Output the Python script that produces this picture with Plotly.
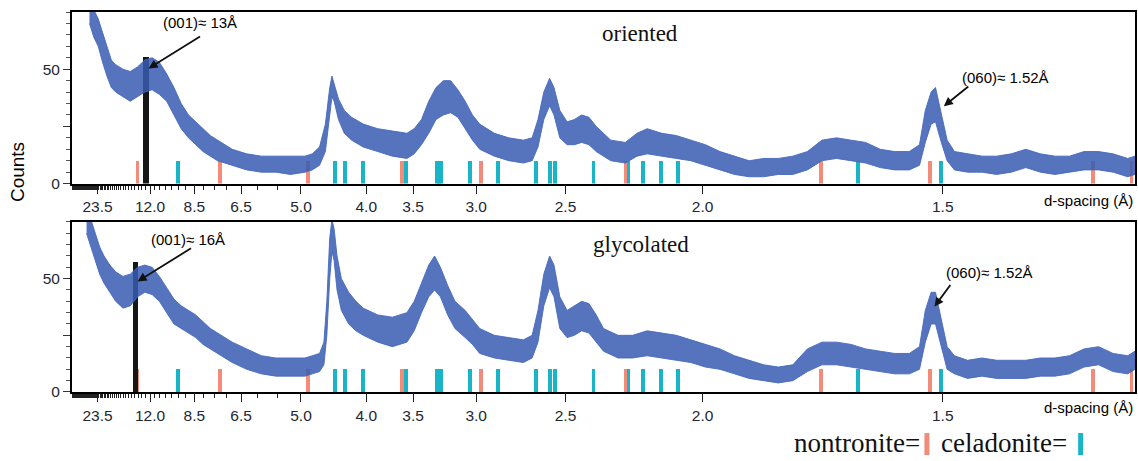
import math
import numpy as np
import plotly.graph_objects as go

LAMBDA = 1.5406  # Cu K-alpha, Å

# ---------------- data (2-theta in degrees, counts) ----------------
# oriented sample: envelope of the noisy trace (low / high counts)
or_2theta = [3.2, 3.5, 3.8, 4.1, 4.4, 4.7, 5.0, 5.5, 6.0, 6.5, 7.0, 7.5, 8.0, 8.5, 9.0, 9.5,
             10.0, 10.5, 11.0, 11.5, 12.0, 12.5, 13.0, 14.0, 15.0, 16.0, 17.0, 18.0, 18.5,
             19.0, 19.4, 19.7, 19.85, 20.0, 20.3, 20.7, 21.2, 22.0, 23.0, 24.0, 25.0, 25.5,
             26.0, 26.5, 27.0, 27.5, 28.0, 28.5, 29.0, 29.5, 30.0, 31.0, 32.0, 33.0, 33.6,
             34.0, 34.4, 34.8, 35.1, 35.5, 36.0, 36.5, 37.0, 37.5, 38.0, 39.0, 40.0, 40.8,
             41.5, 42.5, 43.5, 44.5, 45.5, 46.5, 47.5, 48.5, 49.5, 50.5, 51.5, 52.5, 53.5,
             54.5, 55.5, 56.5, 57.5, 58.5, 59.5, 60.2, 60.6, 61.0, 61.3, 61.7, 62.1, 62.6,
             63.5, 64.5, 65.5, 66.5, 67.5, 68.5, 69.5, 70.5, 71.5, 72.5, 73.5, 74.5, 75.0]
or_low = [70, 64, 60, 53, 47, 42, 40, 38, 36, 38, 40, 41, 39, 36, 30, 24,
          20, 17, 14, 12, 10, 9, 8, 6, 5, 5, 4, 5, 6,
          8, 14, 30, 38, 36, 28, 22, 19, 16, 14, 12, 11, 13,
          17, 22, 28, 30, 31, 29, 24, 19, 15, 12, 10, 9, 10,
          16, 28, 34, 30, 20, 17, 17, 18, 17, 14, 10, 9, 12,
          13, 12, 11, 10, 8, 6, 4, 3, 3, 4, 4, 6, 10,
          11, 10, 9, 7, 6, 6, 8, 18, 26, 27, 18, 10, 6,
          5, 5, 4, 5, 7, 5, 4, 5, 6, 6, 5, 3, 4]
or_high = [80, 76, 72, 66, 60, 54, 52, 50, 49, 51, 54, 55, 53, 48, 42, 35,
           30, 27, 24, 21, 19, 17, 15, 13, 12, 12, 12, 12, 13,
           16, 26, 42, 47, 44, 37, 32, 29, 26, 24, 23, 22, 24,
           28, 36, 42, 45, 45, 41, 36, 30, 26, 22, 20, 19, 20,
           28, 40, 46, 42, 32, 27, 28, 30, 29, 25, 19, 18, 22,
           24, 22, 21, 19, 17, 14, 12, 10, 11, 11, 12, 14, 19,
           20, 19, 18, 15, 14, 14, 17, 32, 40, 42, 30, 19, 14,
           13, 12, 12, 13, 15, 13, 12, 12, 14, 14, 13, 11, 12]

# glycolated sample
gl_2theta = [3.0, 3.3, 3.6, 3.9, 4.2, 4.6, 5.0, 5.5, 6.0, 6.5, 7.0, 7.5, 8.0, 8.5, 9.0, 9.5,
             10.0, 10.5, 11.0, 11.5, 12.0, 12.5, 13.0, 14.0, 15.0, 16.0, 17.0, 18.0, 18.5,
             19.0, 19.3, 19.5, 19.7, 19.85, 20.0, 20.2, 20.5, 21.0, 21.5, 22.0, 23.0, 24.0,
             25.0, 25.5, 26.0, 26.5, 26.9, 27.3, 27.8, 28.3, 29.0, 29.5, 30.0, 31.0, 32.0,
             33.0, 33.6, 34.0, 34.4, 34.8, 35.1, 35.5, 36.0, 36.5, 37.0, 37.5, 38.0, 38.5,
             39.5, 40.5, 41.5, 42.5, 43.5, 44.5, 45.5, 46.5, 47.5, 48.5, 49.5, 50.5, 51.5,
             52.5, 53.5, 54.5, 55.5, 56.5, 57.5, 58.5, 59.5, 60.2, 60.6, 61.0, 61.3, 61.7,
             62.1, 62.6, 63.5, 64.5, 65.5, 66.5, 67.5, 68.5, 69.5, 70.5, 71.5, 72.5, 73.5,
             74.5, 75.0]
gl_low = [70, 64, 58, 52, 48, 44, 40, 37, 38, 42, 44, 43, 40, 35, 30, 28,
          26, 24, 21, 19, 17, 15, 13, 10, 8, 7, 7, 7, 8,
          9, 12, 25, 50, 62, 58, 45, 36, 30, 27, 25, 22, 20,
          22, 27, 35, 42, 45, 42, 34, 28, 24, 21, 17, 15, 14,
          13, 15, 22, 38, 46, 42, 28, 24, 25, 27, 26, 22, 18,
          15, 15, 16, 15, 14, 13, 11, 10, 8, 6, 5, 4, 5,
          9, 12, 12, 11, 10, 9, 8, 8, 10, 22, 30, 30, 20,
          10, 8, 6, 7, 6, 6, 6, 7, 7, 8, 11, 12, 9,
          8, 10]
gl_high = [80, 76, 70, 64, 60, 56, 53, 51, 52, 55, 56, 55, 51, 46, 41, 38,
           36, 34, 31, 28, 26, 24, 22, 19, 16, 15, 15, 15, 16,
           17, 22, 40, 68, 76, 72, 60, 50, 44, 40, 37, 34, 33,
           35, 40, 48, 56, 60, 55, 47, 40, 36, 32, 28, 25, 24,
           23, 25, 36, 52, 60, 56, 42, 36, 38, 40, 39, 34, 28,
           25, 25, 27, 26, 25, 23, 21, 19, 16, 14, 12, 11, 12,
           19, 22, 22, 21, 19, 18, 17, 17, 20, 36, 44, 44, 32,
           20, 16, 14, 15, 14, 14, 14, 15, 15, 16, 19, 20, 17,
           16, 18]

# reference stick patterns (2-theta positions, degrees) and stick height (counts)
nontronite_2theta = [6.50, 12.15, 18.23, 24.66, 30.08, 40.01, 53.46, 60.91, 72.14, 74.76]
celadonite_2theta = [9.27, 20.07, 20.77, 21.97, 24.94, 27.04, 27.18, 27.34, 29.33, 31.25,
                     33.88, 34.81, 35.18, 37.81, 40.21, 41.22, 42.43, 43.64, 55.97, 61.69]
stick_height = 10

# (001) marker bars
or_001_2theta, or_001_counts = 7.08, 55.4
gl_001_2theta, gl_001_counts = 6.34, 57.2

# axis tick labels (d-spacing, Å)
d_labels = [23.5, 12.0, 8.5, 6.5, 5.0, 4.0, 3.5, 3.0, 2.5, 2.0, 1.5]
d_minor = [round(v, 1) for v in np.arange(5.0, 44.01, 0.5)]


def d_to_2theta(d):
    return 2 * math.degrees(math.asin(LAMBDA / (2 * d)))


tick_pos = [d_to_2theta(d) for d in d_labels]
tick_txt = ["%.1f" % d for d in d_labels]
minor_pos = [d_to_2theta(d) for d in d_minor if d not in d_labels]

BLUE_FILL = "rgba(55, 92, 178, 0.85)"
BLUE_LINE = "rgba(70, 105, 190, 0.9)"
SALMON = "#F28B78"
CYAN = "#17B5C7"
TICKFONT = dict(family="Liberation Sans, Arial", size=15.5, color="#1e2733")

fig = go.Figure()

panels = [
    ("x", "y", or_2theta, or_low, or_high, or_001_2theta, or_001_counts),
    ("x2", "y2", gl_2theta, gl_low, gl_high, gl_001_2theta, gl_001_counts),
]
for xa, ya, tt, lo, hi, bx, by in panels:
    fig.add_trace(go.Scatter(
        x=list(tt) + list(tt[::-1]), y=list(hi) + list(lo[::-1]),
        fill="toself", fillcolor=BLUE_FILL, mode="lines",
        line=dict(color=BLUE_LINE, width=1), xaxis=xa, yaxis=ya,
        showlegend=False, hoverinfo="skip"))
    fig.add_trace(go.Bar(
        x=nontronite_2theta, y=[stick_height] * len(nontronite_2theta), width=0.26,
        marker=dict(color=SALMON, line=dict(width=0)), xaxis=xa, yaxis=ya,
        showlegend=False))
    fig.add_trace(go.Bar(
        x=celadonite_2theta, y=[stick_height] * len(celadonite_2theta), width=0.26,
        marker=dict(color=CYAN, line=dict(width=0)), xaxis=xa, yaxis=ya,
        showlegend=False))
    fig.add_trace(go.Bar(
        x=[bx], y=[by], width=0.36,
        marker=dict(color="#161616", line=dict(width=0)), xaxis=xa, yaxis=ya,
        showlegend=False))

xaxis_common = dict(
    range=[2, 75], tickmode="array", tickvals=tick_pos, ticktext=tick_txt,
    ticks="outside", ticklen=8, tickwidth=1.2, tickcolor="#222",
    showline=True, linecolor="black", linewidth=2, mirror=True,
    showgrid=False, zeroline=False, tickfont=TICKFONT,
    minor=dict(tickvals=minor_pos, ticks="outside", ticklen=4, tickwidth=1, tickcolor="#222"),
)
yaxis_common = dict(
    range=[0, 75], tickmode="array", tickvals=[0, 25, 50], ticktext=["0", "", "50"],
    ticks="outside", ticklen=7, tickwidth=1.2, tickcolor="#333",
    showline=True, linecolor="black", linewidth=2, mirror=True,
    showgrid=False, zeroline=False, tickfont=TICKFONT,
    minor=dict(dtick=5, tick0=0, ticks="outside", ticklen=4, tickwidth=1, tickcolor="#555"),
)

fig.update_layout(
    width=1138, height=461,
    margin=dict(l=72, r=1, t=12, b=69),
    paper_bgcolor="white", plot_bgcolor="white",
    barmode="overlay", bargap=0,
    xaxis=dict(domain=[0, 1], anchor="y", **xaxis_common),
    yaxis=dict(domain=[0.5484, 1], anchor="x", **yaxis_common),
    xaxis2=dict(domain=[0, 1], anchor="y2", **xaxis_common),
    yaxis2=dict(domain=[0, 0.4474], anchor="x2", **yaxis_common),
)

ann_font = dict(family="Liberation Sans, Arial", size=15, color="black")
serif = dict(family="Liberation Serif, Times New Roman", size=23, color="#111")

anns = [
    # texts
    dict(x=10.80, y=70.6, xref="x", yref="y", text="(001)≈ 13Å", showarrow=False, font=ann_font,
         xanchor="center"),
    dict(x=66.1, y=46.5, xref="x", yref="y", text="(060)≈ 1.52Å", showarrow=False, font=ann_font,
         xanchor="center"),
    dict(x=9.98, y=67.3, xref="x2", yref="y2", text="(001)≈ 16Å", showarrow=False, font=ann_font,
         xanchor="center"),
    dict(x=65.0, y=52.7, xref="x2", yref="y2", text="(060)≈ 1.52Å", showarrow=False, font=ann_font,
         xanchor="center"),
    dict(x=40.99, y=65.7, xref="x", yref="y", text="oriented", showarrow=False, font=serif,
         xanchor="center"),
    dict(x=41.06, y=65.1, xref="x2", yref="y2", text="glycolated", showarrow=False, font=serif,
         xanchor="center"),
    # arrows
    dict(x=7.256, y=50.3, xref="x", yref="y", text="", showarrow=True, ax=53, ay=-33,
         arrowhead=2, arrowsize=1, arrowwidth=1.8, arrowcolor="#111"),
    dict(x=61.87, y=33.8, xref="x", yref="y", text="", showarrow=True, ax=26, ay=-21,
         arrowhead=2, arrowsize=1, arrowwidth=1.8, arrowcolor="#111"),
    dict(x=6.50, y=48.8, xref="x2", yref="y2", text="", showarrow=True, ax=55, ay=-34,
         arrowhead=2, arrowsize=1, arrowwidth=1.8, arrowcolor="#111"),
    dict(x=61.23, y=37.7, xref="x2", yref="y2", text="", showarrow=True, ax=17, ay=-23,
         arrowhead=2, arrowsize=1, arrowwidth=1.8, arrowcolor="#111"),
    # axis labels
    dict(x=1, y=0.505, xref="paper", yref="paper", xanchor="right", yanchor="middle",
         text="d-spacing (Å)", showarrow=False, font=ann_font),
    dict(x=1, y=-0.042, xref="paper", yref="paper", xanchor="right", yanchor="middle",
         text="d-spacing (Å)", showarrow=False, font=ann_font),
    dict(x=-0.0507, y=0.579, xref="paper", yref="paper", textangle=-90,
         xanchor="center", yanchor="middle", text="Counts", showarrow=False,
         font=dict(family="Liberation Sans, Arial", size=19, color="black")),
    # legend text
    dict(x=0.800, y=-0.134, xref="paper", yref="paper", xanchor="right", yanchor="middle",
         text="nontronite=", showarrow=False,
         font=dict(family="Liberation Serif, Times New Roman", size=27, color="#111")),
    dict(x=0.816, y=-0.134, xref="paper", yref="paper", xanchor="left", yanchor="middle",
         text="celadonite=", showarrow=False,
         font=dict(family="Liberation Serif, Times New Roman", size=27, color="#111")),
]
fig.update_layout(annotations=anns)

fig.update_layout(shapes=[
    dict(type="rect", xref="paper", yref="paper", x0=0.8019, x1=0.8066, y0=-0.166, y1=-0.108,
         fillcolor=SALMON, line=dict(width=0)),
    dict(type="rect", xref="paper", yref="paper", x0=0.9465, x1=0.9512, y0=-0.166, y1=-0.108,
         fillcolor=CYAN, line=dict(width=0)),
])

fig.write_html("out.html", config={"displayModeBar": False},
               post_script="document.body.style.margin='0';document.body.style.overflow='hidden';")
